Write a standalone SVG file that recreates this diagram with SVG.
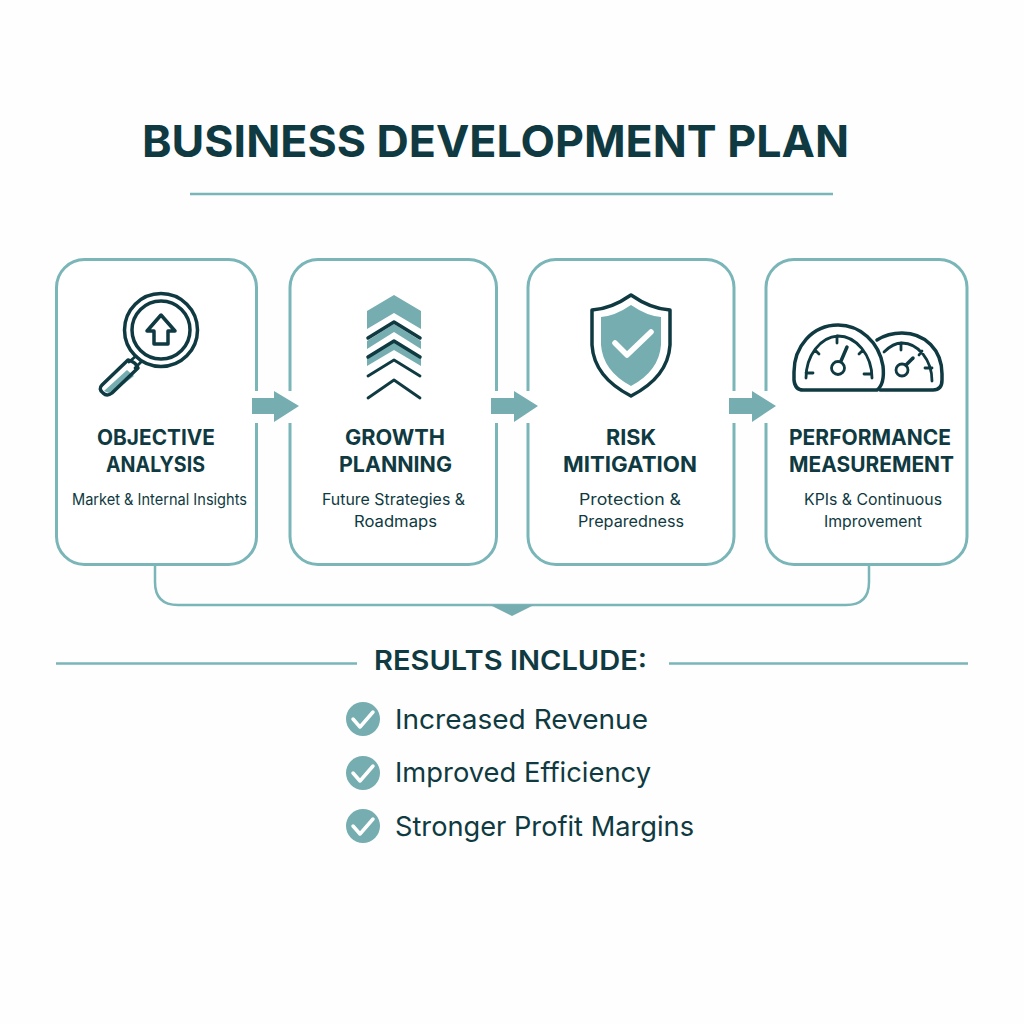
<svg xmlns="http://www.w3.org/2000/svg" width="1024" height="1024" viewBox="0 0 1024 1024">
<style>
.card{fill:#fff;stroke:#7ab5b8;stroke-width:3}
.line{fill:none;stroke:#7ab5b8;stroke-width:2.500}
.ink{fill:none;stroke:#0f3a41;stroke-width:3.500;stroke-linecap:round;stroke-linejoin:round}
.thin{stroke-width:2.800}
.fillt{fill:#75adb0}
.gap{fill:#fefefe}
text{font-family:Inter,"Liberation Sans",sans-serif;fill:#0f3a41}
.h{font-size:21.500px;font-weight:700;text-anchor:middle}
.s{font-size:15.500px;text-anchor:middle}
.r{font-size:27.500px}
.ck{fill:none;stroke:#fff;stroke-width:3.500;stroke-linecap:round;stroke-linejoin:round}
.ck2{stroke-width:5.500}
</style>
<rect width="1024" height="1024" fill="#fefefe"/>
<text x="495.500" y="157" font-size="44.500" font-weight="700" text-anchor="middle" textLength="707" lengthAdjust="spacingAndGlyphs">BUSINESS DEVELOPMENT PLAN</text>
<path class="line" d="M190 194H833"/>
<g id="connectors">
<path class="line" d="M155 565V582Q155 605 178 605H846Q869 605 869 582V565"/>
<path class="fillt" d="M490 605H534L512 616Z"/>
<path class="line" d="M56 663.500H357M669 663.500H968"/>
</g>
<g id="node1">
<rect class="card" x="56.500" y="259.500" width="200" height="305" rx="28"/>
<circle class="ink" cx="161" cy="330" r="36.500"/>
<circle class="ink" cx="161" cy="330" r="29"/>
<path class="ink" d="M161 315L147 331H154V344H168V331H175Z"/>
<path class="ink thin" d="M136 356L129 362M141 362L135 368"/>
<path class="fillt" d="M127 370L134 376 111 394 104 391Z"/>
<path class="ink" d="M128 360L102 385Q98 389 103 393Q107 397 112 393L138 368Q136 362 128 360Z"/>
<text class="h" x="156" y="445" textLength="118" lengthAdjust="spacingAndGlyphs">OBJECTIVE</text>
<text class="h" x="155.500" y="472" textLength="99" lengthAdjust="spacingAndGlyphs">ANALYSIS</text>
<text class="s" x="159.500" y="505" textLength="175" lengthAdjust="spacingAndGlyphs">Market &amp; Internal Insights</text>
</g>
<g id="node2">
<rect class="card" x="290" y="259.500" width="206.500" height="305" rx="28"/>
<path class="fillt" d="M367 311L394 295 421 311V329L394 313 367 329Z"/>
<path class="fillt" d="M367 341L394 324 421 341V349L394 332 367 349Z"/>
<path class="fillt" d="M367 358L394 342 421 358V366L394 350 367 366Z"/>
<path class="ink" d="M368 338L394 322 420 338M368 357L394 341 420 357"/>
<path class="ink thin" d="M368 376L394 360 420 376M368 398L394 380 420 398"/>
<text class="h" x="395" y="445" textLength="100" lengthAdjust="spacingAndGlyphs">GROWTH</text>
<text class="h" x="395.500" y="472" textLength="113" lengthAdjust="spacingAndGlyphs">PLANNING</text>
<text class="s" x="393.500" y="505" textLength="143" lengthAdjust="spacingAndGlyphs">Future Strategies &amp;</text>
<text class="s" x="395.500" y="527" textLength="83" lengthAdjust="spacingAndGlyphs">Roadmaps</text>
</g>
<g id="node3">
<rect class="card" x="528" y="259.500" width="206" height="305" rx="28"/>
<path class="ink" d="M631 295Q611 309 592 310V345Q594 377 631 396Q668 377 670 345V310Q651 309 631 295Z"/>
<path class="fillt" d="M631 305Q615 316 601 317V345Q603 371 631 386Q659 371 661 345V317Q647 316 631 305Z"/>
<path class="ck ck2" d="M615 343L627 355 651 332"/>
<text class="h" x="631" y="445" textLength="50" lengthAdjust="spacingAndGlyphs">RISK</text>
<text class="h" x="630" y="472" textLength="134" lengthAdjust="spacingAndGlyphs">MITIGATION</text>
<text class="s" x="630" y="505" textLength="102" lengthAdjust="spacingAndGlyphs">Protection &amp;</text>
<text class="s" x="631" y="527" textLength="106" lengthAdjust="spacingAndGlyphs">Preparedness</text>
</g>
<g id="node4">
<rect class="card" x="766" y="259.500" width="201" height="305" rx="28"/>
<path class="ink" d="M877 390Q885 384 883 366C879 342 860 325 838 325C812 325 794 347 794 372V380Q795 390 803 390Z"/>
<path class="ink" d="M877 340Q888 333 902 333C925 333 942 350 942 374V380Q942 390 933 390H880"/>
<path class="ink thin" d="M806 378C806 356 820 337 838 336C856 336 872 355 872 378M837 336V343M815 350L819 354M863 350L859 354M806 373H813M870 374H864M884 352Q893 343 902 343C918 343 932 360 932 381M901 343V350M919 355L922 351M925 368H932"/>
<circle class="ink thin" cx="838" cy="368" r="6.500"/>
<path class="ink" d="M841 361L847 347"/>
<circle class="ink thin" cx="902" cy="370" r="6"/>
<path class="ink" d="M906 365L913 358"/>
<text class="h" x="870" y="445" textLength="162" lengthAdjust="spacingAndGlyphs">PERFORMANCE</text>
<text class="h" x="871.500" y="472" textLength="165" lengthAdjust="spacingAndGlyphs">MEASUREMENT</text>
<text class="s" x="873" y="505" textLength="138" lengthAdjust="spacingAndGlyphs">KPIs &amp; Continuous</text>
<text class="s" x="873" y="527" textLength="98" lengthAdjust="spacingAndGlyphs">Improvement</text>
</g>
<g id="arrows">
<rect class="gap" x="254" y="391" width="39" height="32"/>
<rect class="gap" x="493" y="391" width="38" height="32"/>
<rect class="gap" x="731" y="391" width="38" height="32"/>
<path class="fillt" d="M252 398H274V391L299 406 274 422V414H252Z"/>
<path class="fillt" d="M491 398H514V391L538 406 514 422V414H491Z"/>
<path class="fillt" d="M729 398H752V391L776 406 752 422V414H729Z"/>
</g>
<g id="results">
<text x="510.500" y="670" font-size="27" font-weight="600" text-anchor="middle" textLength="273" lengthAdjust="spacingAndGlyphs">RESULTS INCLUDE:</text>
<circle class="fillt" cx="363" cy="719" r="17"/><path class="ck" d="M353 719L360 727 373 712"/>
<circle class="fillt" cx="363" cy="773" r="17"/><path class="ck" d="M353 773L360 781 373 766"/>
<circle class="fillt" cx="363" cy="826" r="17"/><path class="ck" d="M353 826L360 834 373 819"/>
<text class="r" x="395" y="729" textLength="253" lengthAdjust="spacingAndGlyphs">Increased Revenue</text>
<text class="r" x="395" y="782" textLength="256" lengthAdjust="spacingAndGlyphs">Improved Efficiency</text>
<text class="r" x="395" y="836" textLength="299" lengthAdjust="spacingAndGlyphs">Stronger Profit Margins</text>
</g>
</svg>
